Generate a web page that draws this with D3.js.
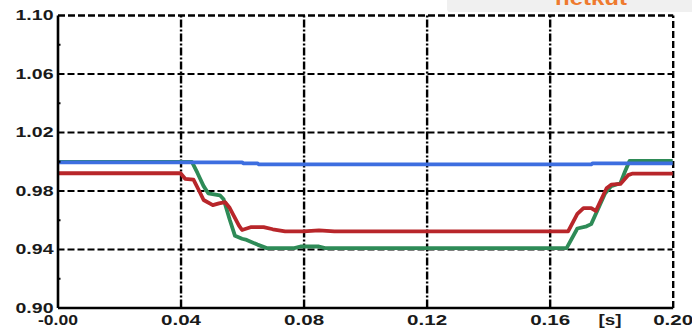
<!DOCTYPE html>
<html>
<head>
<meta charset="utf-8">
<script src="https://cdn.jsdelivr.net/npm/d3@7"></script>
<style>
  html, body { margin: 0; padding: 0; background: #ffffff; }
  svg { display: block; }
  text { font-family: "Liberation Sans", Arial, sans-serif; }
</style>
</head>
<body>
<svg id="chart" width="692" height="328"></svg>
<script>
// ---- data ----
const xTicks = [0, 0.04, 0.08, 0.12, 0.16, 0.20];
const xTickLabels = ["-0.00", "0.04", "0.08", "0.12", "0.16", "0.20"];
const yTicks = [0.90, 0.94, 0.98, 1.02, 1.06, 1.10];
const yTickLabels = ["0.90", "0.94", "0.98", "1.02", "1.06", "1.10"];
const yMinorTicks = [0.92, 0.96, 1.00, 1.04, 1.08];
const xUnitLabel = "[s]";
const brandText = "netkut";

const blueT = [0, 0.0600, 0.0605, 0.0650, 0.0655, 0.1735, 0.1740, 0.2000];
const blueV = [0.9992, 0.9992, 0.9985, 0.9985, 0.9978, 0.9978, 0.9986, 0.9986];

const redT = [0, 0.0400, 0.0415, 0.0442, 0.0460, 0.0475, 0.0505, 0.0525, 0.0545, 0.0560, 0.0590, 0.0600, 0.0630, 0.0670, 0.0700, 0.0740, 0.0800, 0.0850, 0.0900, 0.1660, 0.1690, 0.1710, 0.1735, 0.1750, 0.1785, 0.1800, 0.1830, 0.1855, 0.1870, 0.2000];
const redV = [0.9918, 0.9918, 0.9880, 0.9875, 0.9800, 0.9735, 0.9700, 0.9712, 0.9720, 0.9680, 0.9560, 0.9530, 0.9550, 0.9550, 0.9535, 0.9520, 0.9520, 0.9527, 0.9520, 0.9520, 0.9640, 0.9680, 0.9680, 0.9660, 0.9815, 0.9840, 0.9845, 0.9905, 0.9916, 0.9916];

const greenT = [0, 0.0437, 0.0455, 0.0475, 0.0490, 0.0528, 0.0540, 0.0560, 0.0577, 0.0600, 0.0615, 0.0650, 0.0680, 0.0770, 0.0790, 0.0850, 0.0870, 0.1655, 0.1690, 0.1720, 0.1735, 0.1780, 0.1800, 0.1830, 0.1845, 0.1860, 0.2000];
const greenV = [0.9995, 0.9995, 0.9920, 0.9830, 0.9781, 0.9767, 0.9740, 0.9600, 0.9490, 0.9470, 0.9462, 0.9430, 0.9406, 0.9406, 0.9417, 0.9417, 0.9406, 0.9406, 0.9540, 0.9555, 0.9570, 0.9780, 0.9830, 0.9850, 0.9930, 1.0003, 1.0003];

const seriesOrder = [
  { t: greenT, v: greenV, color: "#2e8b57" },
  { t: redT, v: redV, color: "#b8262a" },
  { t: blueT, v: blueV, color: "#3d6ee0" }
];

// ---- layout ----
const svg = d3.select("#chart");
const pLeft = 57.5, pRight = 672.7, pTop = 15, pBottom = 307.5;
const x = d3.scaleLinear().domain([0, 0.20]).range([pLeft, pRight]);
const y = d3.scaleLinear().domain([0.90, 1.10]).range([pBottom, pTop]);

// brand box at top right
svg.append("rect").attr("x", 447).attr("y", -6).attr("width", 260).attr("height", 18)
  .attr("rx", 3).attr("fill", "#f0f0f0");
svg.append("text").attr("x", 591).attr("y", 4.5).attr("text-anchor", "middle")
  .attr("font-size", 20).attr("font-weight", "bold").attr("fill", "#ee7a2e")
  .attr("textLength", 72).attr("lengthAdjust", "spacingAndGlyphs")
  .text(brandText);

// horizontal dashed grid
const yGrid = svg.append("g").attr("transform", `translate(${pLeft},0)`)
  .call(d3.axisLeft(y).tickValues(yTicks.filter(d => d > 0.9 && d < 1.1)).tickSize(-(pRight - pLeft)).tickFormat(""));
yGrid.select(".domain").remove();
yGrid.selectAll("line").attr("stroke", "#000").attr("stroke-width", 1.9).attr("stroke-dasharray", "7,3");

// top dashed line
const topAxis = svg.append("g").attr("transform", `translate(0,${pTop})`)
  .call(d3.axisTop(x).tickValues([]).tickSizeOuter(0));
topAxis.select(".domain").attr("stroke", "#000").attr("stroke-width", 2.4).attr("stroke-dasharray", "7,3");

// vertical dash-dot grid
const xGrid = svg.append("g").attr("transform", `translate(0,${pBottom})`)
  .call(d3.axisBottom(x).tickValues(xTicks.filter(d => d > 0 && d < 0.2)).tickSize(-(pBottom - pTop)).tickFormat(""));
xGrid.select(".domain").remove();
xGrid.selectAll("line").attr("stroke", "#000").attr("stroke-width", 2.4).attr("stroke-dasharray", "8,2,2,2");

// right dashed edge
const rightAxis = svg.append("g").attr("transform", `translate(${pRight},0)`)
  .call(d3.axisRight(y).tickValues([]).tickSizeOuter(0));
rightAxis.select(".domain").attr("stroke", "#000").attr("stroke-width", 2.4).attr("stroke-dasharray", "7,3");

// series
const line = d3.line().x(d => x(d[0])).y(d => y(d[1]));
seriesOrder.forEach(s => {
  const pts = s.t.map((t, i) => [t, s.v[i]]);
  svg.append("path").datum(pts).attr("d", line)
    .attr("fill", "none").attr("stroke", s.color).attr("stroke-width", 3.8)
    .attr("stroke-linejoin", "round").attr("stroke-linecap", "butt");
});

// solid left & bottom axes
const leftAxis = svg.append("g").attr("transform", `translate(${pLeft},0)`)
  .call(d3.axisLeft(y).tickValues(yMinorTicks).tickSize(-3).tickSizeOuter(0).tickFormat(""));
leftAxis.select(".domain").attr("stroke", "#000").attr("stroke-width", 2.6);
leftAxis.selectAll(".tick line").attr("stroke", "#000").attr("stroke-width", 2);

const bottomAxis = svg.append("g").attr("transform", `translate(0,${pBottom})`)
  .call(d3.axisBottom(x).tickValues([]).tickSizeOuter(0));
bottomAxis.select(".domain").attr("stroke", "#000").attr("stroke-width", 2.6);

// y labels
const yLab = svg.append("g").attr("transform", `translate(${pLeft},0)`)
  .call(d3.axisLeft(y).tickValues(yTicks).tickSize(0).tickPadding(4)
    .tickFormat((d, i) => yTickLabels[i]));
yLab.select(".domain").remove();
yLab.selectAll("text").attr("font-family", "Liberation Sans, Arial, sans-serif")
  .attr("font-size", 14.5).attr("font-weight", "bold").attr("fill", "#1a1a1a")
  .attr("textLength", 38).attr("lengthAdjust", "spacingAndGlyphs");

// x labels
const xLab = svg.append("g").attr("transform", `translate(0,${pBottom})`)
  .call(d3.axisBottom(x).tickValues(xTicks).tickSize(0).tickPadding(4)
    .tickFormat((d, i) => xTickLabels[i]));
xLab.select(".domain").remove();
xLab.selectAll("text").attr("font-family", "Liberation Sans, Arial, sans-serif")
  .attr("font-size", 14.5).attr("font-weight", "bold").attr("fill", "#1a1a1a")
  .attr("textLength", 40).attr("lengthAdjust", "spacingAndGlyphs")
  .attr("dy", null).attr("y", 17);

svg.append("text").attr("x", 610).attr("y", pBottom + 17).attr("text-anchor", "middle")
  .attr("font-size", 14.5).attr("font-weight", "bold").attr("fill", "#1a1a1a")
  .attr("textLength", 23).attr("lengthAdjust", "spacingAndGlyphs")
  .text(xUnitLabel);
</script>
</body>
</html>
